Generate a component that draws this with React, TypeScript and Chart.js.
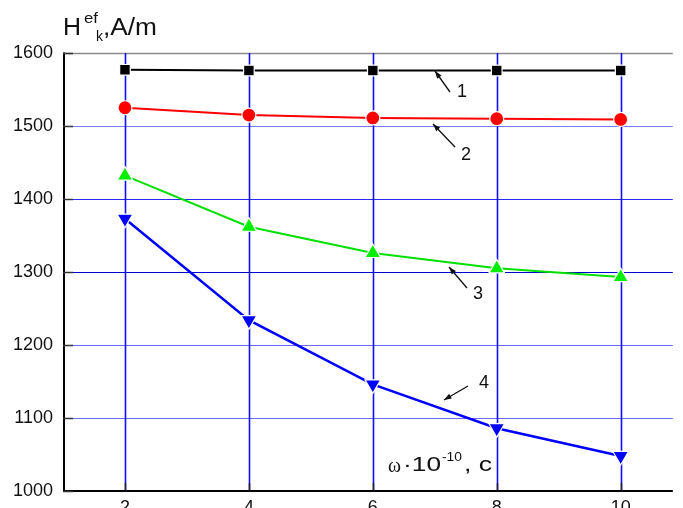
import React, { useEffect, useRef } from "react";
import { Chart, registerables } from "chart.js";

Chart.register(...registerables);

const xValues = [2, 4, 6, 8, 10];
const series1 = [1577, 1576, 1576, 1576, 1576];
const series2 = [1525, 1515, 1511, 1510, 1509];
const series3 = [1432, 1362, 1326, 1305, 1293];
const series4 = [1373, 1234, 1146, 1086, 1048];
const yTicks = [1000, 1100, 1200, 1300, 1400, 1500, 1600];
const curveLabels = ["1", "2", "3", "4"];

const FONT = "'Liberation Sans', Arial, sans-serif";
const W = 683;
const H = 522;

function fitText(ctx: any, text: string, x: number, y: number, width: number) {
  const m = ctx.measureText(text).width;
  ctx.save();
  ctx.translate(x, y);
  ctx.scale(width / m, 1);
  ctx.fillText(text, 0, 0);
  ctx.restore();
}

const gridPlugin = {
  id: "gridDraw",
  beforeDatasetsDraw(chart: any) {
    const ctx = chart.ctx;
    const xs = chart.scales.x;
    const ys = chart.scales.y;
    const area = chart.chartArea;
    ctx.save();
    ctx.lineWidth = 1;
    const hColors: Record<number, string> = {
      1100: "#6a6aff",
      1200: "#6a6aff",
      1300: "#0000d0",
      1400: "#2a2aff",
      1500: "#7a7aff",
    };
    [1100, 1200, 1300, 1400, 1500].forEach((v) => {
      const py = Math.round(ys.getPixelForValue(v)) + 0.5;
      ctx.strokeStyle = hColors[v];
      ctx.beginPath();
      ctx.moveTo(area.left, py);
      ctx.lineTo(area.right, py);
      ctx.stroke();
    });
    // top border line (1600)
    const pt = Math.round(ys.getPixelForValue(1600)) + 0.5;
    ctx.strokeStyle = "#8a8a8a";
    ctx.lineWidth = 1.5;
    ctx.beginPath();
    ctx.moveTo(area.left, pt);
    ctx.lineTo(area.right, pt);
    ctx.stroke();
    // vertical grid
    ctx.lineWidth = 1.6;
    ctx.strokeStyle = "#1010ff";
    xValues.forEach((v) => {
      const px = Math.round(xs.getPixelForValue(v)) + 0.5;
      ctx.beginPath();
      ctx.moveTo(px, area.top);
      ctx.lineTo(px, area.bottom);
      ctx.stroke();
    });
    ctx.restore();
  },
  afterDatasetsDraw(chart: any) {
    const ctx = chart.ctx;
    const xs = chart.scales.x;
    const ys = chart.scales.y;
    const area = chart.chartArea;
    ctx.save();
    // axes
    ctx.strokeStyle = "#000";
    ctx.lineWidth = 2;
    ctx.beginPath();
    ctx.moveTo(area.left + 1, area.top - 0.5);
    ctx.lineTo(area.left + 1, area.bottom);
    ctx.lineTo(area.right, area.bottom);
    ctx.stroke();
    // inward ticks
    ctx.lineWidth = 1.5;
    ctx.strokeStyle = "#222";
    xValues.forEach((v) => {
      const px = Math.round(xs.getPixelForValue(v)) + 0.5;
      ctx.beginPath();
      ctx.moveTo(px, area.bottom);
      ctx.lineTo(px, area.bottom - 8);
      ctx.stroke();
    });
    ctx.strokeStyle = "#333";
    yTicks.forEach((v) => {
      const py = Math.round(ys.getPixelForValue(v)) + 0.5;
      ctx.beginPath();
      ctx.moveTo(area.left, py);
      ctx.lineTo(area.left + 10, py);
      ctx.stroke();
    });

    // title
    ctx.fillStyle = "#111";
    ctx.textBaseline = "alphabetic";
    ctx.textAlign = "left";
    ctx.font = `23px ${FONT}`;
    fitText(ctx, "H", 63, 35, 18);
    ctx.font = `14px ${FONT}`;
    fitText(ctx, "ef", 84, 23, 14);
    fitText(ctx, "k", 96, 41, 7);
    ctx.font = `23px ${FONT}`;
    fitText(ctx, ",A/m", 103, 35, 54);

    // x axis label
    ctx.font = `20px 'Liberation Serif', 'Times New Roman', serif`;
    fitText(ctx, "ω", 388, 472, 13);
    ctx.font = `20px ${FONT}`;
    fitText(ctx, "·10", 403, 471, 38);
    ctx.font = `13px ${FONT}`;
    fitText(ctx, "-10", 442, 461, 20);
    ctx.font = `20px ${FONT}`;
    fitText(ctx, ", c", 464, 471, 28);

    // arrows & curve labels
    const arrows = [
      { x1: 450, y1: 92, x2: 435, y2: 71, lx: 462, ly: 97 },
      { x1: 455, y1: 147, x2: 433, y2: 124, lx: 466, ly: 160 },
      { x1: 467, y1: 288, x2: 449, y2: 267, lx: 478, ly: 299 },
      { x1: 468, y1: 386, x2: 444, y2: 400, lx: 484, ly: 388 },
    ];
    ctx.strokeStyle = "#111";
    ctx.fillStyle = "#111";
    ctx.lineWidth = 1.3;
    arrows.forEach((a, i) => {
      ctx.beginPath();
      ctx.moveTo(a.x1, a.y1);
      ctx.lineTo(a.x2, a.y2);
      ctx.stroke();
      const ang = Math.atan2(a.y2 - a.y1, a.x2 - a.x1);
      const L = 8;
      const wa = 0.35;
      ctx.beginPath();
      ctx.moveTo(a.x2, a.y2);
      ctx.lineTo(a.x2 - L * Math.cos(ang - wa), a.y2 - L * Math.sin(ang - wa));
      ctx.lineTo(a.x2 - L * Math.cos(ang + wa), a.y2 - L * Math.sin(ang + wa));
      ctx.closePath();
      ctx.fill();
      ctx.font = `18px ${FONT}`;
      ctx.textAlign = "center";
      ctx.fillText(curveLabels[i], a.lx, a.ly);
      ctx.textAlign = "left";
    });
    ctx.restore();
  },
};

function mk(data: number[]) {
  return xValues.map((x, i) => ({ x, y: data[i] }));
}

export default function App() {
  const ref = useRef<HTMLCanvasElement>(null);
  useEffect(() => {
    const chart = new Chart(ref.current!, {
      type: "line",
      data: {
        datasets: [
          {
            data: mk(series1),
            borderColor: "#000",
            backgroundColor: "#000",
            borderWidth: 2,
            pointStyle: "rect",
            pointRadius: 7.5,
            pointBorderColor: "#fff",
            pointBorderWidth: 1.2,
          },
          {
            data: mk(series2),
            borderColor: "#ff0000",
            backgroundColor: "#ff0000",
            borderWidth: 2,
            pointStyle: "circle",
            pointRadius: 7,
            pointBorderColor: "#fff",
            pointBorderWidth: 1.2,
          },
          {
            data: mk(series3),
            borderColor: "#00e000",
            backgroundColor: "#00ee00",
            borderWidth: 2,
            pointStyle: "triangle",
            pointRadius: 9,
            pointBorderColor: "#fff",
            pointBorderWidth: 1.2,
          },
          {
            data: mk(series4),
            borderColor: "#0000ff",
            backgroundColor: "#0000ff",
            borderWidth: 2.5,
            pointStyle: "triangle",
            pointRotation: 180,
            pointRadius: 9,
            pointBorderColor: "#fff",
            pointBorderWidth: 1.2,
          },
        ],
      },
      options: {
        responsive: false,
        animation: false,
        layout: { padding: { top: 53, right: 0, left: 0, bottom: 0 } },
        plugins: { legend: { display: false }, tooltip: { enabled: false } },
        scales: {
          x: {
            type: "linear",
            min: 1,
            max: 1 + 620 / 63,
            afterBuildTicks: (s: any) => {
              s.ticks = xValues.map((v) => ({ value: v }));
            },
            afterFit: (s: any) => {
              s.height = H - 491;
            },
            grid: { display: false, drawTicks: false },
            border: { display: false },
            ticks: {
              color: "#111",
              font: { family: FONT, size: 18 },
              padding: 6,
              callback: (v: any) => String(v),
            },
          },
          y: {
            min: 1000,
            max: 1600,
            afterBuildTicks: (s: any) => {
              s.ticks = yTicks.map((v) => ({ value: v }));
            },
            afterFit: (s: any) => {
              s.width = 63;
            },
            grid: { display: false, drawTicks: false },
            border: { display: false },
            ticks: {
              color: "#111",
              font: { family: FONT, size: 18 },
              padding: 10,
              callback: (v: any) => String(v),
            },
          },
        },
      },
      plugins: [gridPlugin],
    } as any);
    return () => chart.destroy();
  }, []);
  return (
    <div style={{ position: "fixed", left: 0, top: 0, width: W, height: H, background: "#fff" }}>
      <canvas ref={ref} width={W} height={H} style={{ width: W, height: H, display: "block" }} />
    </div>
  );
}
